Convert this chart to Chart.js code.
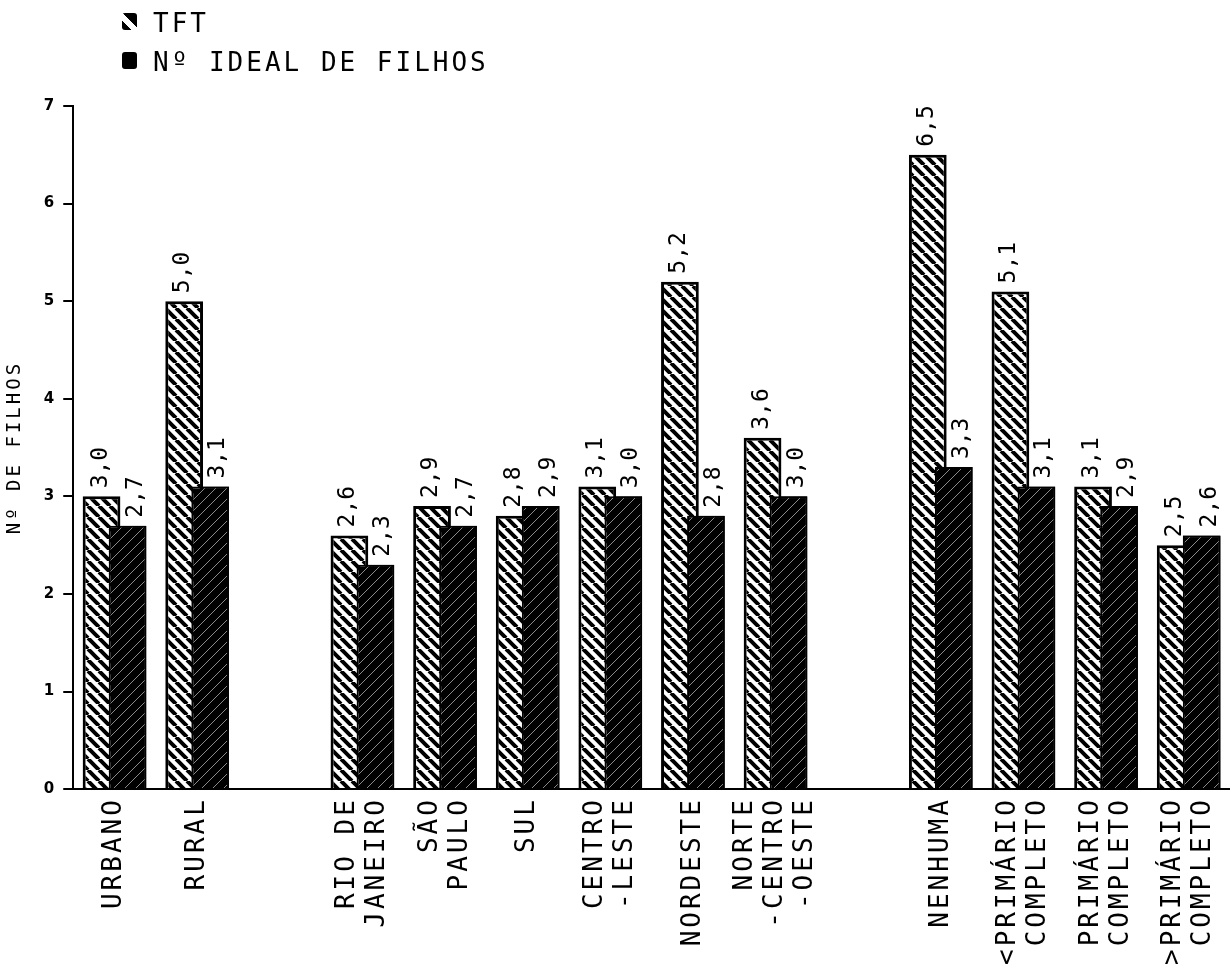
<!DOCTYPE html>
<html>
<head>
<meta charset="utf-8">
<script src="https://cdn.jsdelivr.net/npm/chart.js@4/dist/chart.umd.min.js"></script>
<style>
  body { margin: 0; background: #fff; }
  #wrap { position: relative; width: 1230px; height: 975px; }
  #legend { position: absolute; left: 122px; top: 0; font-family: "DejaVu Sans Mono", monospace; font-size: 26px; letter-spacing: 3px; color: #000; }
  .item { position: absolute; left: 0; white-space: nowrap; line-height: 26px; }
  .item .box { position: absolute; left: 0; width: 15px; height: 17px; border-radius: 3px; background: #000; }
  .item .txt { position: absolute; left: 31px; top: 0; }
</style>
</head>
<body>
<div id="wrap">
  <canvas id="myChart"></canvas>
  <div id="legend"></div>
</div>
<script>
const categories = [
  'URBANO', 'RURAL', '',
  ['RIO DE', 'JANEIRO'], ['SÃO', 'PAULO'], 'SUL', ['CENTRO', '-LESTE'], 'NORDESTE', ['NORTE', '-CENTRO', '-OESTE'], '',
  'NENHUMA', ['<PRIMÁRIO', 'COMPLETO'], ['PRIMÁRIO', 'COMPLETO'], ['>PRIMÁRIO', 'COMPLETO']
];
const tftValues = [3.0, 5.0, null, 2.6, 2.9, 2.8, 3.1, 5.2, 3.6, null, 6.5, 5.1, 3.1, 2.5];
const idealValues = [2.7, 3.1, null, 2.3, 2.7, 2.9, 3.0, 2.8, 3.0, null, 3.3, 3.1, 2.9, 2.6];
const seriesLabels = ['TFT', 'Nº IDEAL DE FILHOS'];
const yTitle = 'Nº DE FILHOS';

const MONO = '"DejaVu Sans Mono", monospace';
const LINE_H = 1.15;

function hatch(bg, fg, width, dir) {
  const s = 11;
  const c = document.createElement('canvas');
  c.width = s; c.height = s;
  const g = c.getContext('2d');
  g.fillStyle = bg;
  g.fillRect(0, 0, s, s);
  g.strokeStyle = fg;
  g.lineWidth = width;
  g.beginPath();
  for (let k = -1; k <= 1; k++) {
    if (dir === 'back') {
      g.moveTo(k * s, 0); g.lineTo(k * s + s, s);
    } else {
      g.moveTo(k * s, s); g.lineTo(k * s + s, 0);
    }
  }
  g.stroke();
  return g.createPattern(c, 'repeat');
}

const tftFill = hatch('#fff', '#000', 4, 'back');
const idealFill = hatch('#000', '#8a8a8a', 1, 'fwd');

const fmt = v => v.toFixed(1).replace('.', ',');
const labelShift = [-1, 8];

// letter spacing like the plotter lettering, center multi-line x labels,
// draw ideal bars over the TFT bars and the value labels
const plotterPlugin = {
  id: 'plotter',
  beforeLayout(chart) { chart.ctx.letterSpacing = '3px'; },
  beforeDraw(chart) {
    chart.ctx.letterSpacing = '3px';
    const sc = chart.scales.x;
    sc.getLabelItems().forEach(item => {
      const n = Array.isArray(item.label) ? item.label.length : 1;
      if (n > 1 && !item.shifted) {
        item.options.translation[0] -= (n - 1) * item.font.lineHeight / 2;
        item.shifted = true;
      }
    });
  },
  afterDatasetsDraw(chart) {
    const ctx = chart.ctx;
    chart.getDatasetMeta(1).controller.draw();
    ctx.save();
    ctx.letterSpacing = '0px';
    ctx.font = '23px ' + MONO;
    ctx.fillStyle = '#000';
    ctx.textAlign = 'left';
    ctx.textBaseline = 'middle';
    chart.data.datasets.forEach((ds, i) => {
      chart.getDatasetMeta(i).data.forEach((bar, j) => {
        const v = ds.data[j];
        if (v == null) return;
        ctx.save();
        ctx.translate(bar.x + labelShift[i], bar.y - 8);
        ctx.rotate(-Math.PI / 2);
        ctx.fillText(fmt(v), 0, 0);
        ctx.restore();
      });
    });
    ctx.restore();
  }
};

const data = {
  labels: categories,
  datasets: [
    { label: seriesLabels[0], data: tftValues, backgroundColor: tftFill, borderColor: '#000', borderWidth: 3 },
    { label: seriesLabels[1], data: idealValues, backgroundColor: idealFill, borderColor: '#000', borderWidth: 2 }
  ]
};

const config = {
  type: 'bar',
  data: data,
  options: {
    responsive: true,
    maintainAspectRatio: false,
    animation: false,
    datasets: { bar: { categoryPercentage: 0.63, barPercentage: 1.45 } },
    layout: { padding: { top: 106, left: 0, right: 0, bottom: 10 } },
    plugins: {
      legend: { display: false },
      tooltip: { enabled: false }
    },
    scales: {
      x: {
        afterFit: scale => { scale.paddingLeft = 0; scale.paddingRight = 0; },
        grid: { display: false },
        border: { display: true, color: '#000', width: 2 },
        ticks: {
          autoSkip: false,
          minRotation: 90,
          maxRotation: 90,
          padding: 0,
          color: '#000',
          font: { family: MONO, size: 26, lineHeight: LINE_H }
        }
      },
      y: {
        min: 0,
        max: 7,
        border: { display: true, color: '#000', width: 2 },
        grid: { drawOnChartArea: false, drawTicks: true, tickLength: 10, color: '#000', lineWidth: 2 },
        ticks: {
          stepSize: 1,
          padding: 6,
          color: '#000',
          font: { family: '"DejaVu Sans", sans-serif', size: 15, weight: 'bold' }
        },
        title: {
          display: true,
          text: yTitle,
          color: '#000',
          padding: { top: 4, bottom: 11 },
          font: { family: MONO, size: 19, lineHeight: 1.2 }
        }
      }
    }
  },
  plugins: [plotterPlugin]
};

const myChart = new Chart(document.getElementById('myChart'), config);

// legend above the plot, one series per row
const legendEl = document.getElementById('legend');
data.datasets.forEach((ds, i) => {
  const row = document.createElement('div');
  row.className = 'item';
  row.style.top = (10 + i * 39) + 'px';
  const box = document.createElement('span');
  box.className = 'box';
  box.style.top = '3px';
  if (i === 0) {
    box.style.background = 'linear-gradient(45deg, #000 0 30%, #fff 30% 55%, #000 55% 100%)';
  }
  const txt = document.createElement('span');
  txt.className = 'txt';
  txt.textContent = ds.label;
  row.appendChild(box);
  row.appendChild(txt);
  legendEl.appendChild(row);
});
</script>
</body>
</html>
